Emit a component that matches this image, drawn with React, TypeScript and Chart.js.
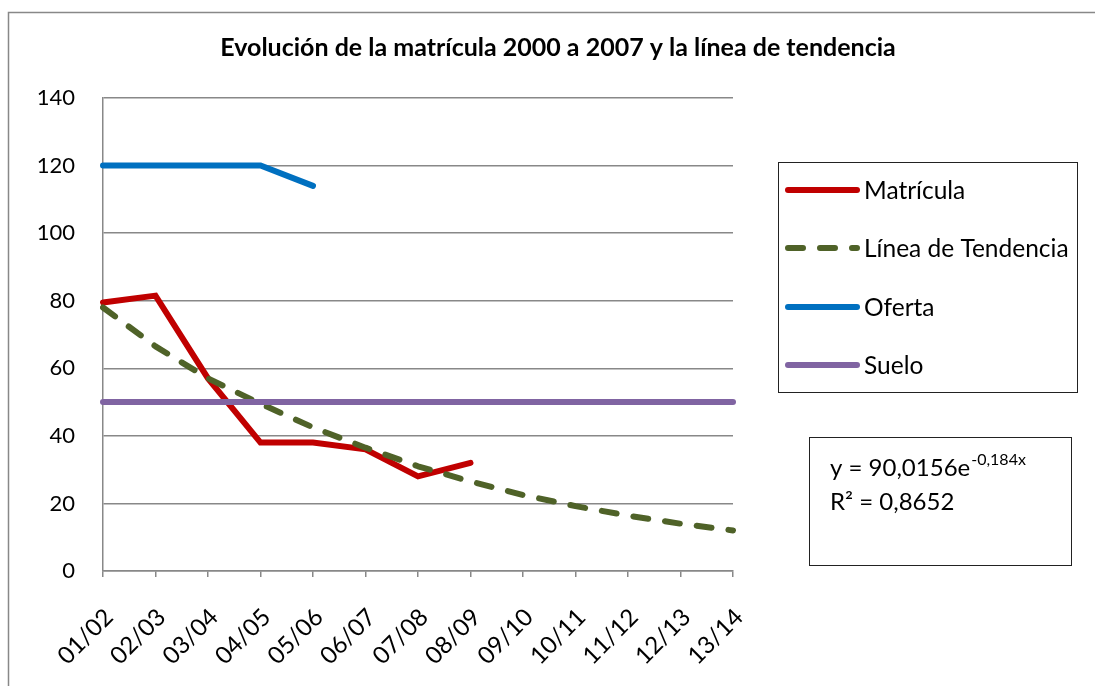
import React, { useEffect, useRef } from "react";
import { Chart, registerables } from "chart.js";

Chart.register(...registerables);

const categories = ["01/02", "02/03", "03/04", "04/05", "05/06", "06/07", "07/08", "08/09", "09/10", "10/11", "11/12", "12/13", "13/14"];
const matricula = [79.5, 81.5, 57, 38, 38, 36, 28, 32];
const tendencia = [78, 66.5, 57, 49.5, 42.5, 36.5, 31, 26.5, 22.5, 19.2, 16.4, 14, 12];
const oferta = [120, 120, 120, 120, 114];
const suelo = [50, 50, 50, 50, 50, 50, 50, 50, 50, 50, 50, 50, 50];
const yTickValues = [0, 20, 40, 60, 80, 100, 120, 140];

const seriesNames = ["Matrícula", "Línea de Tendencia", "Oferta", "Suelo"];
const seriesColors = ["#C00000", "#4F6228", "#0070C0", "#8064A2"];
const titleText = "Evolución de la matrícula 2000 a 2007 y la línea de tendencia";
const eqMain = "y = 90,0156e";
const eqExp = "-0,184x";
const eqR2 = "R² = 0,8652";

const FONT = "Lato, 'Open Sans', sans-serif";

const decorPlugin = {
  id: "decor",
  afterDraw(chart: any) {
    const ctx = chart.ctx as CanvasRenderingContext2D;
    ctx.save();
    // outer border
    ctx.strokeStyle = "#888888";
    ctx.lineWidth = 1.5;
    ctx.strokeRect(8.5, 12.5, 1100, 700);
    // title
    ctx.fillStyle = "#000";
    ctx.font = `bold 25px ${FONT}`;
    ctx.textAlign = "center";
    ctx.textBaseline = "middle";
    ctx.fillText(titleText, 558, 48);
    // legend box
    ctx.strokeStyle = "#222";
    ctx.lineWidth = 1;
    ctx.strokeRect(778.5, 162.5, 299, 230);
    const rows = [190, 248, 307, 365];
    ctx.font = `24.5px ${FONT}`;
    ctx.textAlign = "left";
    for (let i = 0; i < 4; i++) {
      const y = rows[i];
      ctx.beginPath();
      ctx.strokeStyle = seriesColors[i];
      ctx.lineWidth = 6;
      ctx.lineCap = "round";
      ctx.setLineDash(i === 1 ? [15, 17] : []);
      ctx.moveTo(788, y);
      ctx.lineTo(857, y);
      ctx.stroke();
      ctx.setLineDash([]);
      ctx.fillStyle = "#000";
      ctx.fillText(seriesNames[i], 864, y + 1);
    }
    // equation box
    ctx.strokeStyle = "#222";
    ctx.lineWidth = 1;
    ctx.strokeRect(809.5, 437.5, 262, 128);
    ctx.fillStyle = "#000";
    ctx.font = `24px ${FONT}`;
    ctx.textAlign = "left";
    ctx.textBaseline = "alphabetic";
    ctx.fillText(eqMain, 830, 476);
    const w = ctx.measureText(eqMain).width;
    ctx.font = `16px ${FONT}`;
    ctx.fillText(eqExp, 830 + w + 1, 465);
    ctx.font = `24px ${FONT}`;
    ctx.fillText(eqR2, 830, 510);
    ctx.restore();
  },
};

export default function App() {
  const ref = useRef<HTMLCanvasElement | null>(null);
  useEffect(() => {
    if (!ref.current) return;
    const chart = new Chart(ref.current, {
      type: "line",
      data: {
        labels: categories,
        datasets: [
          { label: seriesNames[0], data: matricula, borderColor: seriesColors[0], backgroundColor: seriesColors[0], borderWidth: 6, pointRadius: 0, borderCapStyle: "round", borderJoinStyle: "miter", order: 4, tension: 0 },
          { label: seriesNames[1], data: tendencia, borderColor: seriesColors[1], backgroundColor: seriesColors[1], borderWidth: 6, pointRadius: 0, borderCapStyle: "round", borderJoinStyle: "round", borderDash: [15, 17], order: 3, tension: 0 },
          { label: seriesNames[2], data: oferta, borderColor: seriesColors[2], backgroundColor: seriesColors[2], borderWidth: 6, pointRadius: 0, borderCapStyle: "round", borderJoinStyle: "miter", order: 2, tension: 0 },
          { label: seriesNames[3], data: suelo, borderColor: seriesColors[3], backgroundColor: seriesColors[3], borderWidth: 6, pointRadius: 0, borderCapStyle: "round", borderJoinStyle: "miter", order: 1, tension: 0 },
        ],
      },
      options: {
        animation: false,
        responsive: false,
        maintainAspectRatio: false,
        layout: { padding: { left: 0, top: 98, right: 362, bottom: 0 } },
        plugins: {
          legend: { display: false },
          title: { display: false },
          tooltip: { enabled: false },
        },
        scales: {
          x: {
            type: "category",
            offset: false,
            grid: { display: true, drawOnChartArea: false, drawTicks: true, tickLength: 6, color: "#888888", lineWidth: 1.5 },
            border: { display: true, color: "#888888", width: 1.5 },
            ticks: { minRotation: 45, maxRotation: 45, autoSkip: false, color: "#000", font: { family: FONT, size: 24 }, padding: 26, labelOffset: 6 },
            afterFit: (s: any) => { s.height = 115; },
          },
          y: {
            min: 0,
            max: 140,
            afterBuildTicks: (s: any) => { s.ticks = yTickValues.map((v) => ({ value: v })); },
            grid: { color: "#888888", lineWidth: 1.5, drawTicks: false },
            border: { display: true, color: "#888888", width: 1.5 },
            ticks: { color: "#000", font: { family: FONT, size: 22 }, padding: 28 },
            afterFit: (s: any) => { s.width = 103; },
          },
        },
      } as any,
      plugins: [decorPlugin],
    });
    return () => chart.destroy();
  }, []);
  return (
    <div style={{ position: "absolute", left: 0, top: 0, width: 1095, height: 686, background: "#fff", overflow: "hidden" }}>
      <canvas ref={ref} width={1095} height={686} style={{ display: "block" }} />
    </div>
  );
}
